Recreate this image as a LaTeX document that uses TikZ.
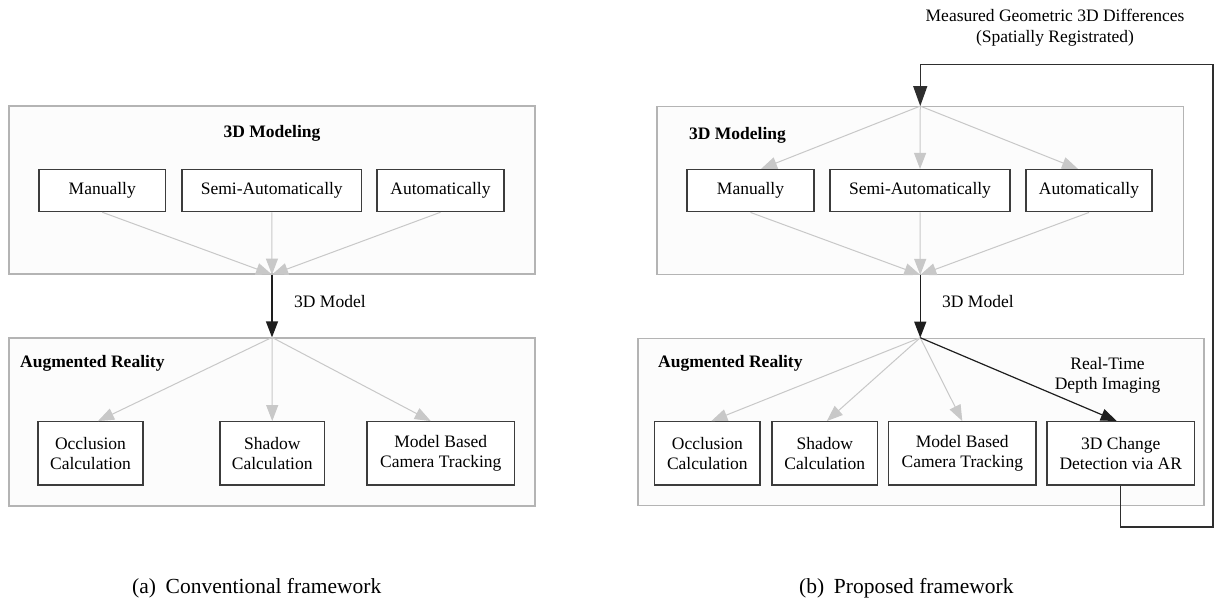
\documentclass[tikz,border=0pt]{standalone}
\usepackage{fontspec}
\setmainfont{Liberation Serif}
\usetikzlibrary{arrows.meta,calc}
\definecolor{contline}{HTML}{B4B4B4}
\definecolor{contfill}{HTML}{FCFCFC}
\definecolor{boxline}{HTML}{3C3C3C}
\definecolor{gline}{HTML}{C8C8C8}
\definecolor{dline}{HTML}{1E1E1E}
\definecolor{fbline}{HTML}{2E2E2E}
\newcommand{\dfs}{\fontsize{17.5}{20.5}\selectfont}
\newcommand{\cfs}{\fontsize{21.5}{25}\selectfont}
\begin{document}
\begin{tikzpicture}[x=1pt,y=-1pt,
 cont/.style={draw=contline,line width=1.2pt,fill=contfill,inner sep=0pt},
 box/.style={draw=boxline,line width=1.3pt,fill=white,inner sep=0pt,align=center,font=\dfs},
 smallbox/.style={box,minimum height=42.2pt},
 bigbox/.style={box,minimum height=63.3pt},
 lbl/.style={inner sep=0pt,align=center,font=\dfs},
 ttl/.style={inner sep=0pt,font=\dfs\bfseries},
 garr/.style={draw=gline,line width=1pt,-{Triangle[length=16pt,width=12pt]}},
 darr/.style={draw=dline,line width=1.2pt,-{Triangle[length=16pt,width=12pt]}},
 fbarr/.style={draw=fbline,line width=1.2pt,-{Triangle[length=20pt,width=14pt]}},
 captxt/.style={inner sep=0pt,font=\cfs,anchor=base west}]
\useasboundingbox (0,0) rectangle (1215,603);

% ---------------- (a) Conventional ----------------
\node[cont,minimum width=526pt,minimum height=168pt] (L3D) at (272,190) {};
\node[cont,minimum width=526pt,minimum height=168pt] (LAR) at (272,422) {};
\node[ttl] (L3Dt) at (272,133) {3D Modeling};
\node[ttl,anchor=west] (LARt) at (20,363) {Augmented Reality};

\node[smallbox,minimum width=126.5pt] (Lman) at (102.25,190.5) {Manually};
\node[smallbox,minimum width=179.5pt] (Lsemi) at (271.75,190.5) {Semi-Automatically};
\node[smallbox,minimum width=127pt] (Lauto) at (440.5,190.5) {Automatically};

\draw[garr] (Lman.south) -- (L3D.south);
\draw[garr] (Lsemi.south) -- (L3D.south);
\draw[garr] (Lauto.south) -- (L3D.south);

\draw[darr] (L3D.south) -- (LAR.north);
\node[lbl,anchor=west] (Lml) at (294,301.7) {3D Model};

\node[bigbox,minimum width=105pt] (Locc) at (90.5,453.35) {Occlusion\\Calculation};
\node[bigbox,minimum width=104.5pt] (Lsha) at (272.25,453.35) {Shadow\\Calculation};
\node[bigbox,minimum width=147.5pt] (Lmod) at (440.75,453.35) {Model Based\\Camera Tracking};

\draw[garr] (LAR.north) -- ($(Locc.north)+(7.5,0)$);
\draw[garr] (LAR.north) -- (Lsha.north);
\draw[garr] (LAR.north) -- ($(Lmod.north)+(-10,0)$);

% ---------------- (b) Proposed ----------------
\node[cont,minimum width=526.5pt,minimum height=167.6pt] (R3D) at (920.25,190.5) {};
\node[cont,minimum width=566pt,minimum height=167.4pt] (RAR) at (921,422) {};
\node[ttl,anchor=west] (R3Dt) at (689,135) {3D Modeling};
\node[ttl,anchor=west] (RARt) at (658,363) {Augmented Reality};

\node[smallbox,minimum width=127pt] (Rman) at (750.5,190.7) {Manually};
\node[smallbox,minimum width=180pt] (Rsemi) at (920,190.7) {Semi-Automatically};
\node[smallbox,minimum width=126pt] (Rauto) at (1089,190.7) {Automatically};

\draw[garr] (Rman.south) -- (R3D.south);
\draw[garr] (Rsemi.south) -- (R3D.south);
\draw[garr] (Rauto.south) -- (R3D.south);

\draw[garr] (R3D.north) -- ($(Rman.north)+(10.5,0)$);
\draw[garr] (R3D.north) -- (Rsemi.north);
\draw[garr] (R3D.north) -- ($(Rauto.north)+(-11,0)$);

\coordinate (RARin) at (R3D.south |- RAR.north);
\draw[darr] (R3D.south) -- (RARin);
\node[lbl,anchor=west] (Rml) at (942,301.7) {3D Model};

\node[bigbox,minimum width=105.3pt] (Rocc) at (707.35,453.35) {Occlusion\\Calculation};
\node[bigbox,minimum width=105.6pt] (Rsha) at (824.8,453.35) {Shadow\\Calculation};
\node[bigbox,minimum width=147.4pt] (Rmod) at (962.3,453.35) {Model Based\\Camera Tracking};
\node[bigbox,minimum width=147.5pt] (Rchg) at (1120.75,453.35) {3D Change\\Detection via AR};

\draw[garr] (RARin) -- ($(Rocc.north)+(4,0)$);
\draw[garr] (RARin) -- ($(Rsha.north)+(2,0)$);
\draw[garr] (RARin) -- (Rmod.north);
\draw[darr] (RARin) -- ($(Rchg.north)+(-4,0)$);
\node[lbl] (rtl) at (1107.5,375.5) {Real-Time\\Depth Imaging};

\coordinate (fbBR) at (1213,527);
\coordinate (fbTR) at (1213,64.3);
\draw[fbarr] (Rchg.south) |- (fbBR) -- (fbTR) -| (R3D.north);
\node[lbl] (fbl) at (1055,27.5) {Measured Geometric 3D Differences\\(Spatially Registrated)};

% ---------------- captions ----------------
\node[captxt] (capa) at (132,593) {(a)\hspace{0.45em}Conventional framework};
\node[captxt] (capb) at (799,593) {(b)\hspace{0.45em}Proposed framework};
\end{tikzpicture}
\end{document}
